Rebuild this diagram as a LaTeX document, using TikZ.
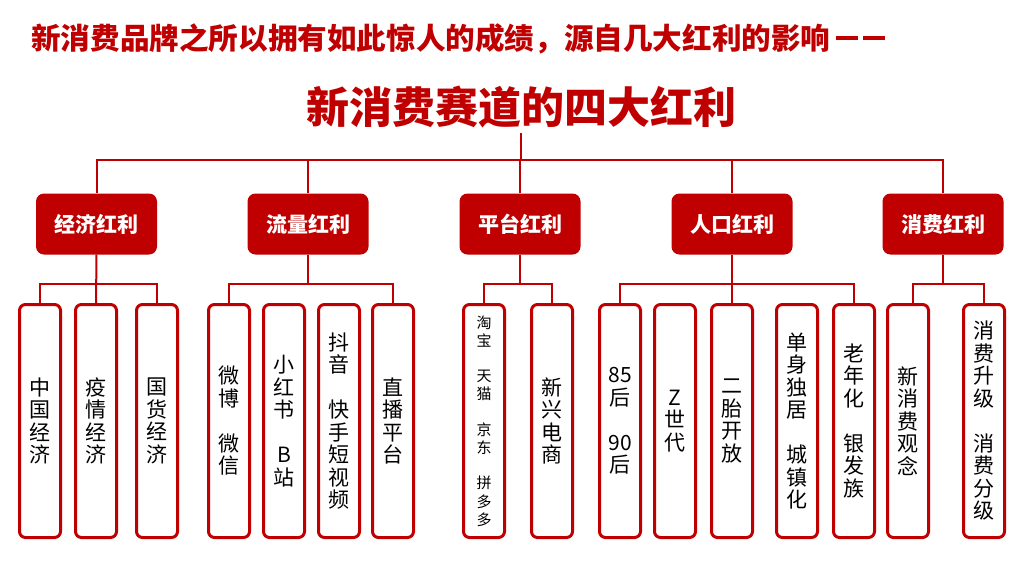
\documentclass[tikz,border=0pt]{standalone}
\usepackage{fontspec}
\newfontfamily\cjk{Noto Sans CJK SC}
\definecolor{dred}{HTML}{C00000}
\tikzset{
  cat/.style={fill=dred, rounded corners=8pt, minimum width=121pt, minimum height=61pt, inner sep=0pt, text=white, font=\cjk\bfseries\fontsize{21}{25}\selectfont},
  leaf/.style={draw=dred, line width=3pt, rounded corners=6pt, minimum width=41pt, minimum height=233pt, inner sep=0pt, align=center, font=\cjk\fontsize{21}{22.5}\selectfont},
  conn/.style={draw=dred, line width=2pt},
}
\begin{document}
\begin{tikzpicture}[x=1pt,y=-1pt]
\useasboundingbox (0,0) rectangle (1024,576);
\fill[white] (0,0) rectangle (1024,576);
% titles
\node[font=\cjk\bfseries\fontsize{29.6}{30}\selectfont, text=dred, anchor=west, inner sep=0pt] (t1) at (31,38.5) {新消费品牌之所以拥有如此惊人的成绩，源自几大红利的影响\kern6pt\rule[9.5pt]{22pt}{3.5pt}\kern5pt\rule[9.5pt]{22pt}{3.5pt}};
\node[font=\cjk\bfseries\fontsize{43}{44}\selectfont, text=dred, inner sep=0pt] (t2) at (521,107) {新消费赛道的四大红利};
% categories
\node[cat] (c1) at (96.5,224) {经济红利};
\node[cat] (c2) at (308,224) {流量红利};
\node[cat] (c3) at (520,224) {平台红利};
\node[cat] (c4) at (732,224) {人口红利};
\node[cat] (c5) at (943,224) {消费红利};
% leaves
\node[leaf] (l1) at (40,421) {中\\国\\经\\济};
\node[leaf] (l2) at (96,421) {疫\\情\\经\\济};
\node[leaf] (l3) at (157,421) {国\\货\\经\\济};
\node[leaf] (l4) at (229,421) {微\\博\\[22.5pt]微\\信};
\node[leaf] (l5) at (284,421) {小\\红\\书\\[22.5pt]B\\站};
\node[leaf] (l6) at (339,421) {抖\\音\\[22.5pt]快\\手\\短\\视\\频};
\node[leaf] (l7) at (393,421) {直\\播\\平\\台};
\node[leaf, font=\cjk\fontsize{15}{18.3}\selectfont] (l8) at (484,421) {淘\\宝\\[17pt]天\\猫\\[17pt]京\\东\\[17pt]拼\\多\\多};
\node[leaf] (l9) at (552,421) {新\\兴\\电\\商};
\node[leaf] (l10) at (620,421) {85\\后\\[22.5pt]90\\后};
\node[leaf] (l11) at (675,421) {Z\\世\\代};
\node[leaf] (l12) at (732,421) {二\\胎\\开\\放};
\node[leaf] (l13) at (797,421) {单\\身\\独\\居\\[22.5pt]城\\镇\\化};
\node[leaf] (l14) at (854,421) {老\\年\\化\\[22.5pt]银\\发\\族};
\node[leaf] (l15) at (908,421) {新\\消\\费\\观\\念};
\node[leaf] (l16) at (984,421) {消\\费\\升\\级\\[22.5pt]消\\费\\分\\级};
% top connectors
\coordinate (top) at (521,133);
\coordinate (hub) at (521,160);
\draw[conn] (top) -- (hub);
\draw[conn] (c1.north) |- (hub) -| (c5.north);
\draw[conn] (c2.north) -- (c2.north |- hub);
\draw[conn] (c3.north) -- (c3.north |- hub);
\draw[conn] (c4.north) -- (c4.north |- hub);
% group bars
\coordinate (b1) at (96,284);
\coordinate (b2) at (308,284);
\coordinate (b3) at (520,284);
\coordinate (b4) at (732,284);
\coordinate (b5) at (943,284);
\draw[conn] (l1.north) |- (b1) -| (l3.north);
\draw[conn] (c1.south) -- (l2.north);
\draw[conn] (l4.north) |- (b2) -| (l7.north);
\draw[conn] (c2.south) -- (b2);
\draw[conn] (l8.north) |- (b3) -| (l9.north);
\draw[conn] (c3.south) -- (b3);
\draw[conn] (l10.north) |- (b4) -| (l14.north);
\draw[conn] (c4.south) -- (l12.north);
\draw[conn] ([xshift=5pt]l15.north) |- (b5) -| (l16.north);
\draw[conn] (c5.south) -- (b5);
\end{tikzpicture}
\end{document}
